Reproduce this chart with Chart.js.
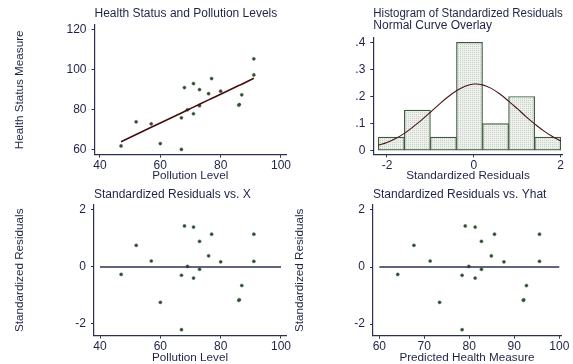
<!DOCTYPE html>
<html>
<head>
<meta charset="utf-8">
<script src="https://cdn.jsdelivr.net/npm/chart.js@4"></script>
<style>
    html, body { margin: 0; padding: 0; background: #fff; }
    body { width: 573px; height: 364px; position: relative; overflow: hidden; }
    .panel { position: absolute; }
</style>
</head>
<body>
<div class="panel" id="fitPanel"><canvas id="fitChart"></canvas></div>
<div class="panel" id="histPanel"><canvas id="histChart"></canvas></div>
<div class="panel" id="residXPanel"><canvas id="residXChart"></canvas></div>
<div class="panel" id="residYhatPanel"><canvas id="residYhatChart"></canvas></div>
<script>
// observations (sorted by pollution level)
const pollution = [47, 52, 57, 60, 67, 67, 68, 69, 71, 71, 73, 73, 76, 77, 80, 86, 86.2, 87, 91, 91];
const health    = [62, 74, 73, 63.2, 76, 60.3, 91, 80, 93, 78, 90, 82, 88, 95.5, 89.2, 82.3, 82.6, 87.4, 105.3, 97.3];
const fitted    = [64.1, 67.7, 71.3, 73.4, 78.4, 78.4, 79.1, 79.9, 81.3, 81.3, 82.7, 82.7, 84.9, 85.6, 87.7, 92.0, 92.1, 92.7, 95.6, 95.6];
const stdResid  = [-0.26, 0.76, 0.21, -1.24, -0.29, -2.20, 1.44, 0.02, 1.40, -0.39, 0.90, -0.08, 0.39, 1.15, 0.18, -1.17, -1.15, -0.65, 1.15, 0.20];

// histogram of residuals (fraction per bin) and the normal curve overlay
const binCenters  = [-1.9, -1.3, -0.7, -0.1, 0.5, 1.1, 1.7];
const binFraction = [0.05, 0.15, 0.05, 0.40, 0.10, 0.20, 0.05];
const curveX = [-2.2, -2.0, -1.8, -1.6, -1.4, -1.2, -1.0, -0.8, -0.6, -0.4, -0.2, 0.0, 0.2, 0.4, 0.6, 0.8, 1.0, 1.2, 1.4, 1.6, 1.8, 2.0];
const curveY = [0.020, 0.030, 0.045, 0.064, 0.088, 0.114, 0.142, 0.171, 0.198, 0.221, 0.238, 0.246, 0.243, 0.230, 0.209, 0.183, 0.155, 0.126, 0.099, 0.074, 0.053, 0.036];

// reference lines at zero
const zeroLineX = [40, 100];
const zeroLineFitted = [60, 100];

// tick labels
const pollutionTicks = [40, 60, 80, 100];
const healthTicks = [60, 80, 100, 120];
const residTicks = [-2, 0, 2];
const fittedTicks = [60, 70, 80, 90, 100];
const histXTicks = [-2, 0, 2];
const histYTicks = [0, 0.1, 0.2, 0.3, 0.4];

const TEXT = '#1f2346';
const AXIS = '#2b3050';
const MARKER = '#2d4a2d';
Chart.defaults.font.family = "'Liberation Sans', Arial, sans-serif";
Chart.defaults.color = TEXT;

function xy(xs, ys) {
    return xs.map((x, i) => ({ x: x, y: ys[i] }));
}

function dotPattern() {
    const c = document.createElement('canvas');
    c.width = 2; c.height = 2;
    const g = c.getContext('2d');
    g.fillStyle = '#eef0ec';
    g.fillRect(0, 0, 2, 2);
    g.fillStyle = '#c9d0c7';
    g.fillRect(0, 0, 1, 1);
    return g.createPattern(c, 'repeat');
}

// axis with fixed ticks and a fixed size so the plot area lands where we want
function fixedAxis(o) {
    return {
        type: 'linear',
        min: o.min,
        max: o.max,
        offset: false,
        afterBuildTicks: s => { s.ticks = o.ticks.map(v => ({ value: v })); },
        afterFit: s => {
            if (s.isHorizontal()) s.height = o.size; else s.width = o.size;
            s.paddingLeft = s.paddingRight = s.paddingTop = s.paddingBottom = 0;
        },
        border: { display: true, color: AXIS, width: 1.2 },
        grid: { display: true, drawOnChartArea: false, drawTicks: true, tickLength: 3, color: AXIS, lineWidth: 1, offset: false },
        ticks: {
            autoSkip: false, maxRotation: 0, padding: o.pad, color: TEXT,
            font: { size: 12 },
            callback: o.fmt || (v => String(v))
        },
        title: o.title
            ? { display: true, text: o.title, color: TEXT, font: { size: 11.7, lineHeight: 1 }, padding: o.titlePad }
            : { display: false }
    };
}

// places a canvas on the page and returns layout bits for its chart
function panel(id, box, area, titleCenter, titleLines) {
    const el = document.getElementById(id);
    el.style.left = box.x + 'px';
    el.style.top = box.y + 'px';
    el.style.width = box.w + 'px';
    el.style.height = box.h + 'px';
    const lh = 11.7;
    const topBox = area.t - box.y;
    const padTop = titleCenter - box.y - lh / 2;
    return {
        padding: { left: 0, top: 0, bottom: 0, right: box.x + box.w - area.r },
        ySize: area.l - box.x,
        xSize: box.y + box.h - area.b,
        title: {
            padding: { top: padTop, bottom: topBox - padTop - lh * titleLines },
            font: { size: 12, lineHeight: lh / 12, weight: 'normal' }
        }
    };
}

function titleOpts(text, lay) {
    return {
        display: true, text: text, align: 'start', fullSize: false, color: TEXT,
        font: lay.title.font, padding: lay.title.padding
    };
}

const commonPlugins = { legend: { display: false }, tooltip: { enabled: false } };
const dotStyle = { pointRadius: 1.6, backgroundColor: MARKER, borderColor: '#5d7a5d', borderWidth: 0.5 };

// 1. health vs pollution with fitted line
const fitLay = panel('fitPanel', { x: 0, y: 0, w: 292, h: 182 }, { l: 94.5, t: 25, r: 286, b: 154.7 }, 14, 1);
const fitChart = new Chart(document.getElementById('fitChart'), {
    type: 'scatter',
    data: {
        datasets: [{
            data: xy(pollution, fitted),
            showLine: true, pointRadius: 0, borderColor: '#450d10', borderWidth: 1.6
        }, Object.assign({ data: xy(pollution, health) }, dotStyle)]
    },
    options: {
        responsive: true, maintainAspectRatio: false, animation: false,
        layout: { padding: fitLay.padding },
        plugins: Object.assign({ title: titleOpts('Health Status and Pollution Levels', fitLay) }, commonPlugins),
        scales: {
            x: fixedAxis({ min: 38.2, max: 101.66, ticks: pollutionTicks, size: fitLay.xSize, pad: 1,
                title: 'Pollution Level', titlePad: { top: 0, bottom: 0 } }),
            y: fixedAxis({ min: 57.66, max: 122.1, ticks: healthTicks, size: fitLay.ySize, pad: 5,
                title: 'Health Status Measure', titlePad: { top: 14, bottom: 0 } })
        }
    }
});

// 2. histogram of standardized residuals with normal curve
const histLay = panel('histPanel', { x: 290, y: 0, w: 283, h: 182 }, { l: 373.3, t: 38, r: 562.7, b: 154.3 }, 14, 2);
const histChart = new Chart(document.getElementById('histChart'), {
    type: 'bar',
    data: {
        datasets: [{
            type: 'line',
            data: xy(curveX, curveY),
            borderColor: '#4a1518', borderWidth: 1.1, pointRadius: 0, tension: 0.4, fill: false
        }, {
            data: xy(binCenters, binFraction),
            backgroundColor: dotPattern(), borderColor: '#3d5c3d', borderWidth: 1.2,
            borderSkipped: false, barPercentage: 1, categoryPercentage: 1
        }]
    },
    options: {
        responsive: true, maintainAspectRatio: false, animation: false,
        layout: { padding: histLay.padding },
        plugins: Object.assign({ title: titleOpts(['Histogram of Standardized Residuals', 'Normal Curve Overlay'], histLay) }, commonPlugins),
        scales: {
            x: fixedAxis({ min: -2.315, max: 2.046, ticks: histXTicks, size: histLay.xSize, pad: 1,
                title: 'Standardized Residuals', titlePad: { top: 0, bottom: 0 } }),
            y: fixedAxis({ min: -0.0133, max: 0.4159, ticks: histYTicks, size: histLay.ySize, pad: 5,
                fmt: v => v === 0 ? '0' : String(Math.round(v * 10) / 10).replace('0.', '.') })
        }
    }
});

// 3. residuals vs pollution level
const rxLay = panel('residXPanel', { x: 0, y: 182, w: 292, h: 182 }, { l: 94, t: 205, r: 286, b: 335.5 }, 194.5, 1);
const residXChart = new Chart(document.getElementById('residXChart'), {
    type: 'scatter',
    data: {
        datasets: [{
            data: xy(zeroLineX, [0, 0]),
            showLine: true, pointRadius: 0, borderColor: AXIS, borderWidth: 1.3
        }, Object.assign({ data: xy(pollution, stdResid) }, dotStyle)]
    },
    options: {
        responsive: true, maintainAspectRatio: false, animation: false,
        layout: { padding: rxLay.padding },
        plugins: Object.assign({ title: titleOpts('Standardized Residuals vs. X', rxLay) }, commonPlugins),
        scales: {
            x: fixedAxis({ min: 38.0, max: 101.66, ticks: pollutionTicks, size: rxLay.xSize, pad: 1,
                title: 'Pollution Level', titlePad: { top: 0, bottom: 0 } }),
            y: fixedAxis({ min: -2.404, max: 2.175, ticks: residTicks, size: rxLay.ySize, pad: 5,
                title: 'Standardized Residuals', titlePad: { top: 14, bottom: 0 } })
        }
    }
});

// 4. residuals vs predicted values
const ryLay = panel('residYhatPanel', { x: 290, y: 182, w: 283, h: 182 }, { l: 373, t: 205, r: 561, b: 335.7 }, 194.5, 1);
const residYhatChart = new Chart(document.getElementById('residYhatChart'), {
    type: 'scatter',
    data: {
        datasets: [{
            data: xy(zeroLineFitted, [0, 0]),
            showLine: true, pointRadius: 0, borderColor: AXIS, borderWidth: 1.3
        }, Object.assign({ data: xy(fitted, stdResid) }, dotStyle)]
    },
    options: {
        responsive: true, maintainAspectRatio: false, animation: false,
        layout: { padding: ryLay.padding },
        plugins: Object.assign({ title: titleOpts('Standardized Residuals vs. Yhat', ryLay) }, commonPlugins),
        scales: {
            x: fixedAxis({ min: 58.6, max: 100.38, ticks: fittedTicks, size: ryLay.xSize, pad: 1,
                title: 'Predicted Health Measure', titlePad: { top: 0, bottom: 0 } }),
            y: fixedAxis({ min: -2.41, max: 2.175, ticks: residTicks, size: ryLay.ySize, pad: 5,
                title: 'Standardized Residuals', titlePad: { top: 4, bottom: 0 } })
        }
    }
});
</script>
</body>
</html>
